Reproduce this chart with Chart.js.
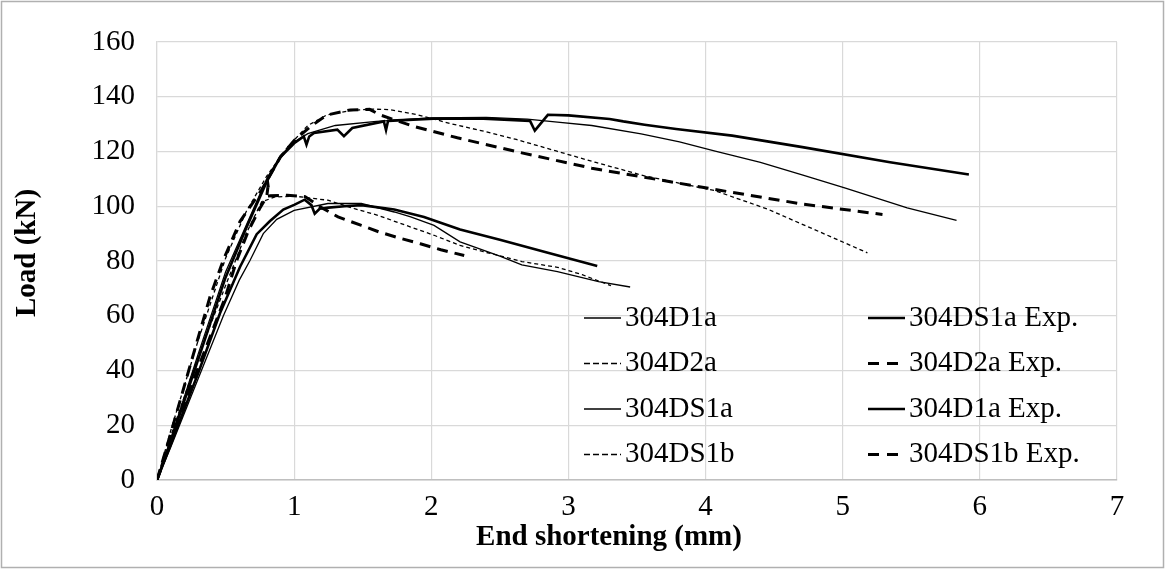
<!DOCTYPE html>
<html>
<head>
<meta charset="utf-8">
<script src="https://cdn.jsdelivr.net/npm/chart.js@4.4.1/dist/chart.umd.min.js"></script>
<style>
  html, body { margin: 0; padding: 0; background: #fff; }
  #wrap { width: 1165px; height: 569px; }
</style>
</head>
<body>
<div id="wrap"><canvas id="myChart" width="1165" height="569"></canvas></div>
<script>
// Load vs end shortening curves as [mm, kN] pairs

// Ticks
const xTicks = [0, 1, 2, 3, 4, 5, 6, 7];
const yTicks = [0, 20, 40, 60, 80, 100, 120, 140, 160];

// Lower group
const s304D1a = [[0,0],[0.1,12],[0.3,37],[0.484,60],[0.6,73],[0.678,80.2],[0.775,90],[0.873,95.2],[1.0,98.5],[1.246,101],[1.49,101],[1.73,97.9],[1.85,96.1],[2.02,93],[2.21,87],[2.5,81.8],[2.66,78.6],[2.92,76.1],[3.22,72.5],[3.45,70.5]];
const s304D2a = [[0,0],[0.1,16],[0.3,45],[0.5,71],[0.65,90],[0.763,101.6],[0.86,103.4],[1.0,103.7],[1.246,102.2],[1.44,99.1],[1.61,96.7],[1.85,92.4],[2.02,89.4],[2.21,85.7],[2.38,83.4],[2.66,79.8],[2.92,77.7],[3.1,75],[3.31,71]];
const s304D1aExp = [[0,0],[0.1,13],[0.3,39],[0.46,61],[0.605,77.8],[0.727,89.8],[0.824,94.6],[0.921,98.8],[1.0,100.5],[1.077,102.4],[1.126,100.4],[1.15,97.3],[1.186,99.1],[1.25,99.5],[1.367,100],[1.49,100.4],[1.73,98.8],[1.947,96.1],[2.21,91.5],[2.5,87.8],[2.85,83],[3.21,78.2]];
const s304D2aExp = [[0,0],[0.1,14],[0.3,41],[0.496,66.5],[0.581,80.2],[0.666,91],[0.751,99.4],[0.8,103.5],[0.81,107.5],[0.82,103.8],[0.95,104],[1.08,103.5],[1.2,99.5],[1.32,96.1],[1.49,93],[1.62,90.6],[1.78,88.2],[1.92,86.3],[2.07,84.1],[2.24,82]];

// Upper group
const s304DS1a = [[0,0],[0.1,15],[0.3,46],[0.5,76],[0.65,93],[0.8,110],[0.9,118.5],[1.0,123.5],[1.1,126.5],[1.3,129.5],[1.6,131],[2.0,132.3],[2.4,132.5],[2.7,131.8],[2.92,130.7],[3.17,129.5],[3.53,126.4],[3.81,123.5],[4.07,120.1],[4.4,116],[4.71,111.4],[5.02,106.6],[5.47,99.4],[5.83,94.8]];
const s304DS1b = [[0,0],[0.1,18],[0.3,51],[0.5,81],[0.65,98],[0.8,111],[0.95,121.5],[1.1,129.5],[1.24,133.4],[1.41,134.9],[1.55,135.5],[1.7,135.3],[1.9,133.4],[2.14,130.2],[2.4,127.2],[2.62,124.4],[2.916,120.1],[3.2,116],[3.555,111.1],[4.067,105.7],[4.45,99],[4.834,90.6],[5.18,83]];
const s304DS1aExp = [[0,0],[0.1,14],[0.3,44],[0.5,74],[0.65,92],[0.8,109],[0.9,118],[1.0,123],[1.07,125.5],[1.09,122.5],[1.11,125.5],[1.145,126.8],[1.315,128],[1.363,125.6],[1.424,128.6],[1.654,131],[1.67,127.8],[1.685,131.2],[2.017,132],[2.38,132],[2.72,131.2],[2.755,127.6],[2.85,133.4],[3.0,133.2],[3.3,131.9],[3.4,131],[3.555,129.8],[3.785,128.2],[4.194,125.8],[4.706,121.6],[5.345,116.1],[5.92,111.6]];
const s304DS1bExp = [[0,0],[0.1,17],[0.3,52],[0.387,67],[0.484,80.4],[0.605,94.4],[0.763,106],[0.9,118],[1.0,124],[1.116,129],[1.237,133.3],[1.41,135.2],[1.55,135.4],[1.63,133.3],[1.87,129.2],[2.19,125],[2.66,119.5],[3.17,113.9],[3.68,109.5],[4.19,105.1],[4.706,100.8],[5.29,97]];

const FONT = "'Liberation Serif', 'Times New Roman', serif";

// line styles
const thinSolid = { borderWidth: 1.3, borderDash: [] };
const thinDash = { borderWidth: 1.3, borderDash: [4, 3] };
const thickSolid = { borderWidth: 2.6, borderDash: [] };
const thickDash = { borderWidth: 3, borderDash: [11, 7] };

function series(label, pts, style) {
    return Object.assign({
        label: label,
        data: pts.map(p => ({ x: p[0], y: p[1] })),
        borderColor: '#000',
        backgroundColor: '#000',
        pointRadius: 0,
        tension: 0,
        fill: false
    }, style);
}

// same order as the legend (row by row, two columns)
const datasets = [
    series('304D1a', s304D1a, thinSolid),
    series('304DS1a Exp.', s304DS1aExp, thickSolid),
    series('304D2a', s304D2a, thinDash),
    series('304D2a Exp.', s304D2aExp, thickDash),
    series('304DS1a', s304DS1a, thinSolid),
    series('304D1a Exp.', s304D1aExp, thickSolid),
    series('304DS1b', s304DS1b, thinDash),
    series('304DS1b Exp.', s304DS1bExp, thickDash)
];

// Frame, axis titles and the in-plot legend
const decorPlugin = {
    id: 'decor',
    beforeDraw(chart) {
        const ctx = chart.ctx;
        ctx.save();
        ctx.fillStyle = '#fff';
        ctx.fillRect(0, 0, chart.width, chart.height);
        ctx.restore();
    },
    afterDraw(chart) {
        const ctx = chart.ctx;
        ctx.save();
        // outer frame
        ctx.strokeStyle = '#b0b0b0';
        ctx.lineWidth = 1.5;
        ctx.strokeRect(1.5, 1.5, chart.width - 3, chart.height - 3);

        // axis titles
        ctx.fillStyle = '#000';
        ctx.font = 'bold 29px ' + FONT;
        ctx.textAlign = 'center';
        ctx.textBaseline = 'middle';
        ctx.fillText('End shortening (mm)', 609, 538);
        ctx.translate(28, 253);
        ctx.rotate(-Math.PI / 2);
        ctx.fillText('Load (kN)', 0, 0);
        ctx.restore();

        // legend
        ctx.save();
        ctx.font = '29px ' + FONT;
        ctx.textAlign = 'left';
        ctx.textBaseline = 'middle';
        const colX = [584, 868];
        chart.data.datasets.forEach((ds, i) => {
            const col = i % 2;
            const row = Math.floor(i / 2);
            const y = 318 + row * 45.5;
            const x0 = colX[col];
            ctx.strokeStyle = '#000';
            ctx.lineWidth = ds.borderWidth;
            ctx.setLineDash(ds.borderDash.length ? (ds.borderWidth > 2 ? [11, 8] : [6, 3]) : []);
            ctx.beginPath();
            ctx.moveTo(x0, y);
            ctx.lineTo(x0 + 37, y);
            ctx.stroke();
            ctx.setLineDash([]);
            ctx.fillStyle = '#000';
            ctx.fillText(ds.label, x0 + 41, y);
        });
        ctx.restore();
    }
};

new Chart(document.getElementById('myChart'), {
    type: 'line',
    data: { datasets: datasets },
    options: {
        responsive: false,
        animation: false,
        layout: { padding: { left: 0, right: 48, top: 42, bottom: 0 } },
        plugins: {
            legend: { display: false },
            tooltip: { enabled: false }
        },
        scales: {
            x: {
                type: 'linear',
                min: 0,
                max: 7,
                afterFit: s => { s.height = 89; },
                afterBuildTicks: s => { s.ticks = xTicks.map(v => ({ value: v })); },
                grid: { color: '#d9d9d9', lineWidth: 1.2, drawTicks: false },
                border: { color: '#bfbfbf', width: 1.5 },
                ticks: { color: '#000', font: { family: FONT, size: 29 }, padding: 10, maxRotation: 0 }
            },
            y: {
                type: 'linear',
                min: 0,
                max: 160,
                afterFit: s => { s.width = 157; },
                afterBuildTicks: s => { s.ticks = yTicks.map(v => ({ value: v })); },
                grid: { color: '#d9d9d9', lineWidth: 1.2, drawTicks: false },
                border: { color: '#d9d9d9', width: 1.2 },
                ticks: { color: '#000', font: { family: FONT, size: 29 }, padding: 22 }
            }
        }
    },
    plugins: [decorPlugin]
});
</script>
</body>
</html>
